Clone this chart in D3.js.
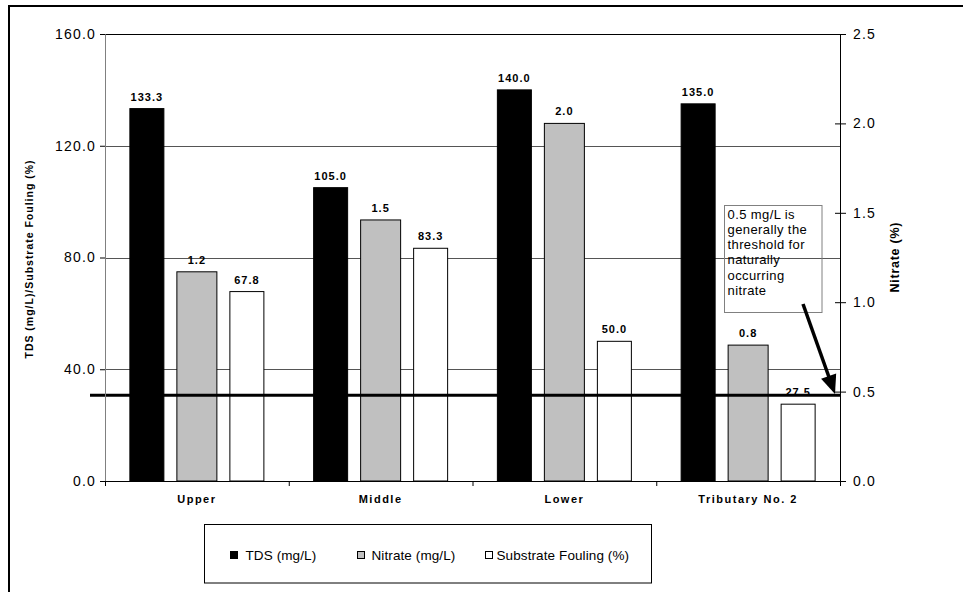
<!DOCTYPE html>
<html>
<head>
<meta charset="utf-8">
<script src="https://cdn.jsdelivr.net/npm/d3@7"></script>
<style>
  body { margin: 0; background: #fff; }
  svg { display: block; font-family: "Liberation Sans", Arial, sans-serif; }
</style>
</head>
<body>
<svg id="chart" width="963" height="592"></svg>
<script>
// ---- data ----
const categories = ["Upper", "Middle", "Lower", "Tributary No. 2"];
const tdsValues = [133.3, 105.0, 140.0, 135.0];
const nitrateValues = [1.17, 1.46, 2.0, 0.76];
const foulingValues = [67.8, 83.3, 50.0, 27.5];
const leftTicks = [0, 40, 80, 120, 160];
const rightTicks = [0, 0.5, 1.0, 1.5, 2.0, 2.5];
const thresholdNitrate = 0.48;
const seriesNames = ["TDS (mg/L)", "Nitrate (mg/L)", "Substrate Fouling (%)"];
const annotationLines = ["0.5 mg/L is", "generally the", "threshold for", "naturally", "occurring", "nitrate"];
const leftTitle = "TDS (mg/L)/Substrate Fouling (%)";
const rightTitle = "Nitrate (%)";

// ---- layout ----
const svg = d3.select("#chart");
const L = 105, R = 840, T = 34, B = 481;

const x = d3.scaleBand().domain(categories).range([L, R]).paddingInner(0).paddingOuter(0);
const yL = d3.scaleLinear().domain([0, 160]).range([B, T]);
const yR = d3.scaleLinear().domain([0, 2.5]).range([B, T]);
const fmt = d3.format(".1f");

// outer border
svg.append("rect").attr("x", 9).attr("y", 6).attr("width", 1000).attr("height", 1000)
  .attr("fill", "none").attr("stroke", "#000").attr("stroke-width", 2);

// gridlines (left axis)
svg.append("g").selectAll("line").data(leftTicks.filter(d => d > 0 && d < 160)).join("line")
  .attr("x1", L).attr("x2", R)
  .attr("y1", d => Math.round(yL(d)) + 0.5).attr("y2", d => Math.round(yL(d)) + 0.5)
  .attr("stroke", "#555").attr("stroke-width", 1);

// top border of plot
svg.append("line").attr("x1", L).attr("x2", R).attr("y1", T + 0.5).attr("y2", T + 0.5)
  .attr("stroke", "#000").attr("stroke-width", 1);

// annotation box (no fill, gridline shows through)
const boxX = 724.5, boxY = 205.5, boxW = 97.5, boxH = 107;
svg.append("rect").attr("x", boxX).attr("y", boxY).attr("width", boxW).attr("height", boxH)
  .attr("fill", "none").attr("stroke", "#808080").attr("stroke-width", 1);
svg.append("g").selectAll("text").data(annotationLines).join("text")
  .attr("x", 727.5).attr("y", (d, i) => 218.5 + i * 15.3)
  .attr("font-size", 13).attr("letter-spacing", 0.4).attr("fill", "#000")
  .text(d => d);

// bars
const barW = 34, nitW = 40, off = 50;
const g = svg.append("g");
categories.forEach((c, i) => {
  const cx = x(c) + x.bandwidth() / 2;
  g.append("rect").attr("x", cx - off - barW / 2).attr("y", yL(tdsValues[i]))
    .attr("width", barW).attr("height", B - yL(tdsValues[i]))
    .attr("fill", "#000").attr("stroke", "#000").attr("stroke-width", 1);
  g.append("rect").attr("x", cx - nitW / 2).attr("y", yR(nitrateValues[i]))
    .attr("width", nitW).attr("height", B - yR(nitrateValues[i]))
    .attr("fill", "#c0c0c0").attr("stroke", "#000").attr("stroke-width", 1);
  g.append("rect").attr("x", cx + off - barW / 2).attr("y", yL(foulingValues[i]))
    .attr("width", barW).attr("height", B - yL(foulingValues[i]))
    .attr("fill", "#fff").attr("stroke", "#000").attr("stroke-width", 1);
  const lab = (xx, yy, t) => g.append("text").attr("x", xx).attr("y", yy - 8)
    .attr("text-anchor", "middle").attr("font-size", 11).attr("font-weight", "bold")
    .attr("letter-spacing", 1).text(t);
  lab(cx - off, yL(tdsValues[i]), fmt(tdsValues[i]));
  lab(cx, yR(nitrateValues[i]), fmt(nitrateValues[i]));
  lab(cx + off, yL(foulingValues[i]), fmt(foulingValues[i]));
});

// threshold line
svg.append("line").attr("x1", 90).attr("x2", R).attr("y1", yR(thresholdNitrate)).attr("y2", yR(thresholdNitrate))
  .attr("stroke", "#000").attr("stroke-width", 3);

// left axis
const axL = svg.append("g").attr("transform", `translate(${L},0)`)
  .call(d3.axisLeft(yL).tickValues(leftTicks).tickFormat(fmt).tickSize(5).tickPadding(4));
axL.select(".domain").attr("stroke", "#808080");
axL.selectAll(".tick line").attr("stroke", "#000");
axL.selectAll("text").attr("font-size", 14).attr("letter-spacing", 1.2)
  .attr("font-family", "'Liberation Sans', Arial, sans-serif").attr("fill", "#000");

// right axis
const axR = svg.append("g").attr("transform", `translate(${R},0)`)
  .call(d3.axisRight(yR).tickValues(rightTicks).tickFormat(fmt).tickSize(6).tickPadding(7));
axR.select(".domain").attr("stroke", "#000");
axR.selectAll(".tick line").attr("x1", -5).attr("stroke", "#000");
axR.selectAll("text").attr("font-size", 14).attr("letter-spacing", 1.2)
  .attr("font-family", "'Liberation Sans', Arial, sans-serif").attr("fill", "#000");

// bottom axis
const axB = svg.append("g").attr("transform", `translate(0,${B})`)
  .call(d3.axisBottom(x).tickSize(0).tickPadding(14));
axB.select(".domain").attr("stroke", "#000");
axB.selectAll("text").attr("font-size", 11).attr("font-weight", "bold").attr("letter-spacing", 1.5)
  .attr("font-family", "'Liberation Sans', Arial, sans-serif").attr("fill", "#000");
svg.append("g").selectAll("line").data(categories.map(c => x(c)).concat([R])).join("line")
  .attr("x1", d => d + 0.5).attr("x2", d => d + 0.5).attr("y1", B).attr("y2", B + 5)
  .attr("stroke", "#000");

// axis titles
svg.append("text").attr("transform", `translate(33,${(T + B) / 2 + 2}) rotate(-90)`)
  .attr("text-anchor", "middle").attr("font-size", 10.5).attr("font-weight", "bold")
  .attr("textLength", 198).attr("lengthAdjust", "spacing").text(leftTitle);
svg.append("text").attr("transform", `translate(899,${(T + B) / 2}) rotate(-90)`)
  .attr("text-anchor", "middle").attr("font-size", 12.5).attr("font-weight", "bold")
  .attr("textLength", 70).attr("lengthAdjust", "spacing").text(rightTitle);

// arrow (shaft + manual head)
const ax1 = 803, ay1 = 304, ax2 = 835, ay2 = 394;
const dx = ax2 - ax1, dy = ay2 - ay1, len = Math.hypot(dx, dy);
const ux = dx / len, uy = dy / len, px = -uy, py = ux;
const headL = 19, headW = 8;
const bx = ax2 - ux * headL, by = ay2 - uy * headL;
svg.append("line").attr("x1", ax1).attr("y1", ay1).attr("x2", bx + ux * 2).attr("y2", by + uy * 2)
  .attr("stroke", "#000").attr("stroke-width", 3.5);
svg.append("path")
  .attr("d", `M${ax2},${ay2} L${bx + px * headW},${by + py * headW} L${bx - px * headW},${by - py * headW} Z`)
  .attr("fill", "#000");

// legend
svg.append("rect").attr("x", 204.5).attr("y", 524.5).attr("width", 447).attr("height", 58.5)
  .attr("fill", "#fff").attr("stroke", "#000").attr("stroke-width", 1);
const legFill = ["#000", "#c0c0c0", "#fff"];
const legSwX = [230, 357, 485];
const legTxX = [245.5, 371.5, 496.5];
seriesNames.forEach((s, i) => {
  svg.append("rect").attr("x", legSwX[i] + 0.5).attr("y", 551.5).attr("width", 7).attr("height", 7)
    .attr("fill", legFill[i]).attr("stroke", "#000").attr("stroke-width", 1);
  svg.append("text").attr("x", legTxX[i]).attr("y", 560).attr("font-size", 13.5)
    .attr("letter-spacing", 0.1).text(s);
});
</script>
</body>
</html>
